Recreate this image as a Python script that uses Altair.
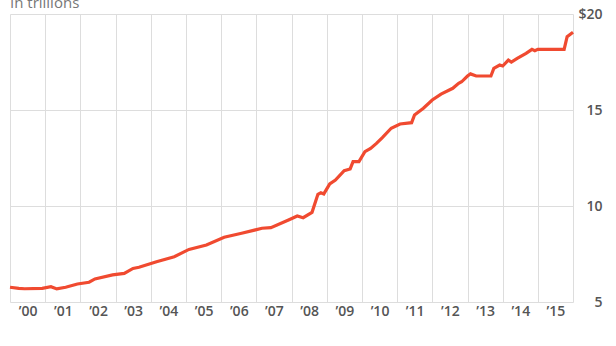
import altair as alt
import pandas as pd

months = [
    "2000-01", "2000-04", "2000-06", "2000-12", "2001-03", "2001-05", "2001-08", "2001-12",
    "2002-04", "2002-06", "2002-12", "2003-04", "2003-07", "2003-09", "2004-03", "2004-09",
    "2005-02", "2005-08", "2006-02", "2006-08", "2007-03", "2007-06", "2007-12", "2008-03",
    "2008-05", "2008-08", "2008-10", "2008-11", "2008-12", "2009-02", "2009-04", "2009-07",
    "2009-09", "2009-10", "2009-12", "2010-02", "2010-04", "2010-06", "2010-08", "2010-11",
    "2011-02", "2011-06", "2011-07", "2011-10", "2012-01", "2012-04", "2012-08", "2012-10",
    "2012-11", "2013-01", "2013-02", "2013-04", "2013-09", "2013-10", "2013-12", "2014-01",
    "2014-03", "2014-04", "2014-06", "2014-09", "2014-11", "2014-12", "2015-01", "2015-10",
    "2015-11", "2016-01",
]
debt = [
    5.77, 5.71, 5.69, 5.71, 5.80, 5.68, 5.77, 5.94,
    6.03, 6.20, 6.41, 6.49, 6.75, 6.81, 7.10, 7.36,
    7.74, 7.97, 8.37, 8.58, 8.84, 8.87, 9.27, 9.48,
    9.39, 9.67, 10.61, 10.69, 10.63, 11.15, 11.35, 11.84,
    11.93, 12.31, 12.31, 12.83, 13.00, 13.26, 13.56, 14.05,
    14.27, 14.34, 14.74, 15.09, 15.52, 15.83, 16.13, 16.39,
    16.47, 16.77, 16.88, 16.77, 16.77, 17.17, 17.34, 17.29,
    17.60, 17.50, 17.69, 17.95, 18.16, 18.09, 18.16, 18.16,
    18.82, 19.05,
]
years = list(range(2000, 2017))
y_ticks = [5, 10, 15, 20]
subtitle = "In trillions"

df = pd.DataFrame({"date": [m + "-01" for m in months], "debt": debt})

FONT = "Open Sans"
LABEL_COLOR = "#555555"
GRID = "#dddddd"

x = alt.X(
    "date:T",
    scale=alt.Scale(type="utc",
                    domain=[alt.DateTime(year=years[0], month=1, date=1, utc=True),
                            alt.DateTime(year=years[-1], month=1, date=1, utc=True)]),
    axis=alt.Axis(
        values=[alt.DateTime(year=yy, month=1, date=1, utc=True) for yy in years],
        labelExpr="utcFormat(datum.value, '%Y') < '2016' ? '\u2019' + utcFormat(datum.value, '%y') : ''",
        labelOffset=17.6,
        labelFlush=False,
        labelOverlap=False,
        labelPadding=2,
        tickSize=0,
        domain=False,
        grid=True,
        gridColor=GRID,
        labelFont=FONT,
        labelFontSize=14,
        labelFontWeight=600,
        labelColor=LABEL_COLOR,
        labelBaseline="top",
        title=None,
    ),
)

y = alt.Y(
    "debt:Q",
    scale=alt.Scale(domain=[5, 20], nice=False, zero=False),
    axis=alt.Axis(
        orient="right",
        values=y_ticks,
        labelExpr="datum.value == 20 ? '$20' : datum.label",
        labelAlign="right",
        labelPadding=29,
        labelFlush=False,
        tickSize=0,
        domain=False,
        grid=True,
        gridColor=GRID,
        labelFont=FONT,
        labelFontSize=14,
        labelFontWeight=600,
        labelColor=LABEL_COLOR,
        title=None,
    ),
)

line = alt.Chart(df).mark_line(color="#f04a30", strokeWidth=3.2).encode(x=x, y=y)

title = alt.Chart(pd.DataFrame({"t": [subtitle]})).mark_text(
    align="left", baseline="alphabetic", font=FONT, fontSize=15, color="#777777"
).encode(x=alt.value(0), y=alt.value(-6), text="t:N")

chart = alt.layer(line, title).properties(
    width=563, height=288,
    padding={"left": 10, "top": 14, "right": 43, "bottom": 44},
    autosize=alt.AutoSizeParams(type="none"),
).configure_view(stroke=None)

chart.save("out.html", embed_options={"renderer": "svg", "actions": False})
